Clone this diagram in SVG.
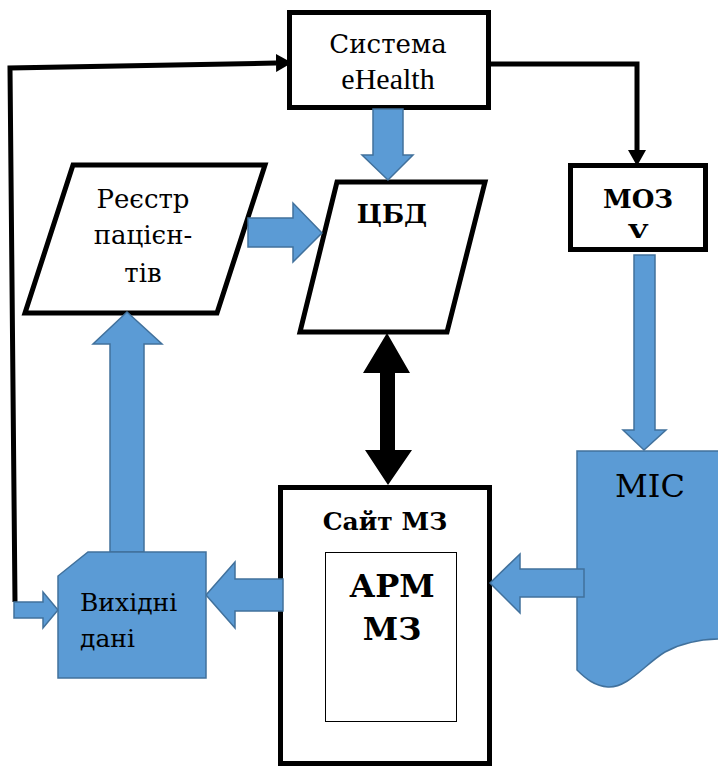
<svg xmlns="http://www.w3.org/2000/svg" width="718" height="767" viewBox="0 0 718 767">
<style>
.box{fill:#fff;stroke:#000;stroke-width:5}
.blue{fill:#5B9BD5;stroke:#41719C;stroke-width:1.5}
.line{fill:none;stroke:#000;stroke-width:5}
.t{font-family:"DejaVu Serif","Liberation Serif",serif;fill:#000;text-anchor:middle}
.lat{font-family:"Liberation Serif","Times New Roman",serif}
.b{font-weight:bold}
</style>
<defs>
<marker id="ah" markerUnits="userSpaceOnUse" markerWidth="16" markerHeight="18" refX="0" refY="9" orient="auto">
<path d="M0,0 L16,9 L0,18 Z" fill="#000"/>
</marker>
<clipPath id="mozclip"><rect x="573" y="168" width="130" height="70"/></clipPath>
</defs>
<rect width="718" height="767" fill="#fff"/>

<g id="ehealth">
<rect class="box" x="289.5" y="12.5" width="199" height="95"/>
<text class="t" x="388" y="53" font-size="26">Система</text>
<text class="t lat" x="388" y="89" font-size="30">eHealth</text>
</g>

<g id="reestr">
<polygon class="box" points="73,165 265,165 217,313 25,313"/>
<text class="t" x="143" y="208" font-size="26">Реєстр</text>
<text class="t" x="143" y="244" font-size="26">пацієн-</text>
<text class="t" x="143" y="282" font-size="26">тів</text>
</g>

<g id="cbd">
<polygon class="box" points="337,182 485,182 447,332 300,332"/>
<text class="t b" x="392" y="223" font-size="26">ЦБД</text>
</g>

<g id="moz">
<rect class="box" x="570.5" y="165.5" width="135" height="84"/>
<text class="t b" x="638" y="208" font-size="26">МОЗ</text>
<text class="t b" x="638" y="243" font-size="26" clip-path="url(#mozclip)">У</text>
</g>

<g id="mis">
<path class="blue" d="M577,451 L722,451 L722,639 C705,639 685,641 665,652 C645,664 628,688 608,687 C595,686 586,679 577,670 Z"/>
<text class="t" x="650" y="497" font-size="32">МІС</text>
</g>

<g id="site">
<rect class="box" x="280.5" y="487.5" width="209" height="276"/>
<text class="t b" x="385" y="530" font-size="25">Сайт МЗ</text>
<rect x="325.5" y="552.5" width="131" height="169" fill="#fff" stroke="#000" stroke-width="1"/>
<text class="t b" x="392" y="597" font-size="32">АРМ</text>
<text class="t b" x="392" y="640" font-size="32">МЗ</text>
</g>

<g id="connectors">
<path class="line" d="M15,602 L10,68 L276,63" marker-end="url(#ah)"/>
<path class="line" d="M490,64 H637 V150" marker-end="url(#ah)"/>
<polygon fill="#000" points="387,333 410,373 395,373 395,450 412,450 388,485 365,450 380,450 380,373 363,373"/>
<polygon class="blue" points="373,109 403,109 403,155 413,155 388,180 362,155 373,155"/>
<polygon class="blue" points="248,218 293,218 293,203 322,233 293,262 293,247 248,247"/>
<polygon class="blue" points="110,552 110,344 93,344 127,312 162,344 144,344 144,552"/>
<polygon class="blue" points="283,579 235,579 235,562 206,595 235,628 235,611 283,611"/>
<polygon class="blue" points="634,255 655,255 655,430 666,430 644,450 623,430 634,430"/>
<polygon class="blue" points="584,569 520,569 520,554 490,583 520,613 520,597 584,597"/>
<polygon class="blue" points="14,602 43,602 43,592 58,610 43,628 43,618 14,618"/>
</g>

<g id="vykhidni">
<path class="blue" d="M88,552 H206 V678 H58 V576 Z"/>
<text class="t" x="80" y="611" font-size="25" style="text-anchor:start">Вихідні</text>
<text class="t" x="80" y="647" font-size="25" style="text-anchor:start">дані</text>
</g>
</svg>
